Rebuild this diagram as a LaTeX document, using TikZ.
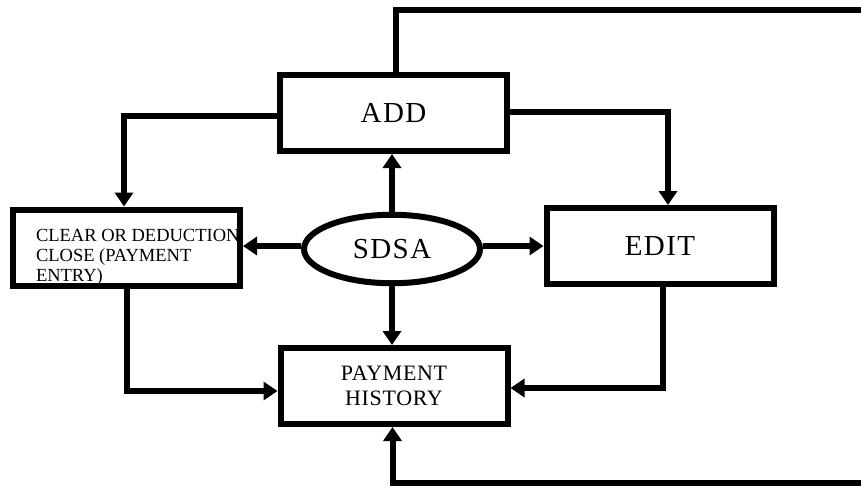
\documentclass[tikz,border=0pt]{standalone}
\usepackage{fontspec}
\setmainfont{Liberation Serif}
\usetikzlibrary{arrows.meta,shapes.geometric}
\begin{document}
\begin{tikzpicture}[x=1pt,y=-1pt,line width=6pt,
  box/.style={draw,rectangle,minimum width=227pt,minimum height=76pt,inner sep=0pt,font=\fontsize{29}{33}\selectfont\addfontfeatures{LetterSpace=5}},
  oval/.style={draw,ellipse,minimum width=176pt,minimum height=68.5pt,inner sep=0pt,font=\fontsize{29}{33}\selectfont\addfontfeatures{LetterSpace=5}},
  arr/.style={-{Triangle[width=18pt,length=14pt]}}]
\useasboundingbox (0,0) rectangle (861,487);
\node[box] (ADD) at (393.5,113) {ADD};
\node[box] (CLEAR) at (126.5,247.5) {};
\node[box] (EDIT) at (660,246) {EDIT};
\node[box,align=center,font=\fontsize{22}{25}\selectfont\addfontfeatures{LetterSpace=3}] (PH) at (394,386) {PAYMENT\\HISTORY};
\node[oval] (SDSA) at (392,249) {SDSA};
\node[anchor=north west,align=left,inner sep=0pt,font=\fontsize{18.5}{19.7}\selectfont] (cleartxt) at (33,226.5) {CLEAR OR DEDUCTION\\CLOSE (PAYMENT\\ENTRY)};
\draw[arr] (SDSA.north) -- (SDSA.north |- ADD.south);
\draw[arr] (SDSA.south) -- (SDSA.south |- PH.north);
\draw[arr] ([yshift=3pt]SDSA.west) -- ([yshift=3pt]SDSA.west -| CLEAR.east);
\draw[arr] ([yshift=3pt]SDSA.east) -- ([yshift=3pt]SDSA.east -| EDIT.west);
\draw[arr] ([yshift=1pt]ADD.east) -| ([xshift=8pt]EDIT.north);
\draw[arr] ([yshift=-3pt]ADD.west) -| ([xshift=-2.5pt]CLEAR.north);
\draw[arr] (CLEAR.south) |- ([yshift=-5pt]PH.west);
\draw[arr] ([xshift=3pt]EDIT.south) |- ([yshift=-2pt]PH.east);
\coordinate (topR) at (870,10);
\draw ([xshift=2.5pt]ADD.north) |- (topR);
\coordinate (botR) at (870,483);
\draw[arr] (botR) -| ([xshift=-1.5pt]PH.south);
\end{tikzpicture}
\end{document}
